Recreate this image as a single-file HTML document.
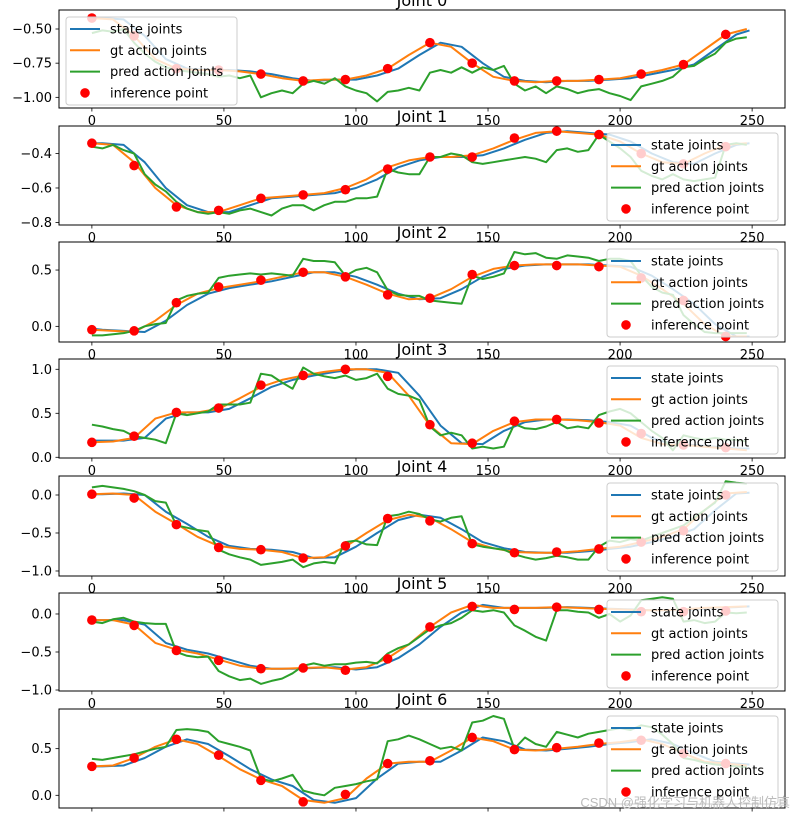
<!DOCTYPE html>
<html><head><meta charset="utf-8"><style>
html,body{margin:0;padding:0;background:#fff;}
svg{display:block;font-family:"DejaVu Sans","Liberation Sans",sans-serif;}
</style></head><body>
<svg id="fig" width="800" height="819" viewBox="0 0 800 819" xmlns="http://www.w3.org/2000/svg"></svg>
<script>
// x values of inference points
const inferT = [0,16,32,48,64,80,96,112,128,144,160,176,192,208,224,240];
const xTicks = [0,50,100,150,200,250];
const yTicks0 = [-1.00,-0.75,-0.50];
const yTicks1 = [-0.8,-0.6,-0.4];
const yTicks2 = [0.0,0.5];
const yTicks3 = [0.0,0.5,1.0];
const yTicks4 = [-1.0,-0.5,0.0];
const yTicks5 = [-1.0,-0.5,0.0];
const yTicks6 = [0.0,0.5];
// gt every 8 steps, state every 8 steps (lagged), pred every 4 steps
const gt0 = [-0.42,-0.43,-0.55,-0.72,-0.79,-0.80,-0.80,-0.81,-0.83,-0.86,-0.88,-0.87,-0.87,-0.84,-0.79,-0.69,-0.60,-0.63,-0.75,-0.85,-0.88,-0.89,-0.88,-0.88,-0.87,-0.86,-0.83,-0.80,-0.76,-0.65,-0.54,-0.50];
const state0 = [-0.42,-0.42,-0.43,-0.55,-0.72,-0.79,-0.80,-0.80,-0.81,-0.83,-0.86,-0.88,-0.87,-0.87,-0.84,-0.79,-0.69,-0.60,-0.63,-0.75,-0.85,-0.88,-0.89,-0.88,-0.88,-0.87,-0.86,-0.83,-0.80,-0.76,-0.65,-0.54,-0.51];
const pred0 = [-0.53,-0.51,-0.52,-0.50,-0.60,-0.68,-0.74,-0.78,-0.80,-0.81,-0.82,-0.83,-0.85,-0.84,-0.86,-0.84,-1.00,-0.97,-0.95,-0.97,-0.90,-0.88,-0.90,-0.86,-0.92,-0.95,-0.97,-1.03,-0.96,-0.95,-0.93,-0.95,-0.82,-0.80,-0.82,-0.78,-0.82,-0.78,-0.80,-0.77,-0.90,-0.95,-0.92,-0.97,-0.92,-0.94,-0.97,-0.95,-0.94,-0.97,-0.99,-1.02,-0.92,-0.90,-0.88,-0.85,-0.78,-0.77,-0.72,-0.68,-0.60,-0.57,-0.56];
const infer0 = [-0.42,-0.55,-0.79,-0.80,-0.83,-0.88,-0.87,-0.79,-0.60,-0.75,-0.88,-0.88,-0.87,-0.83,-0.76,-0.54];

const gt1 = [-0.34,-0.35,-0.45,-0.60,-0.70,-0.74,-0.74,-0.70,-0.66,-0.65,-0.64,-0.63,-0.60,-0.55,-0.48,-0.44,-0.42,-0.42,-0.41,-0.37,-0.32,-0.28,-0.27,-0.28,-0.29,-0.33,-0.40,-0.45,-0.46,-0.40,-0.35,-0.34];
const state1 = [-0.34,-0.34,-0.35,-0.45,-0.60,-0.70,-0.74,-0.74,-0.70,-0.66,-0.65,-0.64,-0.63,-0.60,-0.55,-0.48,-0.44,-0.42,-0.42,-0.41,-0.37,-0.32,-0.28,-0.27,-0.28,-0.29,-0.33,-0.40,-0.45,-0.46,-0.40,-0.35,-0.34];
const pred1 = [-0.36,-0.37,-0.35,-0.38,-0.40,-0.52,-0.58,-0.62,-0.68,-0.72,-0.74,-0.75,-0.74,-0.75,-0.73,-0.72,-0.74,-0.76,-0.72,-0.70,-0.70,-0.73,-0.70,-0.68,-0.68,-0.66,-0.66,-0.65,-0.49,-0.51,-0.52,-0.52,-0.42,-0.42,-0.40,-0.41,-0.45,-0.46,-0.45,-0.44,-0.43,-0.42,-0.43,-0.45,-0.38,-0.37,-0.39,-0.38,-0.29,-0.33,-0.37,-0.42,-0.50,-0.53,-0.55,-0.52,-0.55,-0.56,-0.55,-0.54,-0.35,-0.34,-0.35];
const infer1 = [-0.34,-0.47,-0.71,-0.73,-0.66,-0.64,-0.61,-0.49,-0.42,-0.42,-0.31,-0.27,-0.29,-0.40,-0.46,-0.36];

const gt2 = [-0.03,-0.04,-0.05,0.05,0.19,0.29,0.34,0.37,0.40,0.44,0.48,0.48,0.44,0.37,0.29,0.24,0.25,0.33,0.44,0.51,0.54,0.55,0.55,0.55,0.54,0.53,0.45,0.33,0.20,0.02,-0.09,-0.09];
const state2 = [-0.02,-0.03,-0.04,-0.05,0.05,0.19,0.29,0.34,0.37,0.40,0.44,0.48,0.48,0.44,0.37,0.29,0.24,0.25,0.33,0.44,0.51,0.54,0.55,0.55,0.55,0.54,0.53,0.45,0.33,0.20,0.02,-0.09,-0.09];
const pred2 = [-0.08,-0.08,-0.07,-0.06,-0.04,0.00,0.02,0.03,0.23,0.27,0.29,0.30,0.43,0.45,0.46,0.47,0.46,0.47,0.46,0.45,0.60,0.58,0.58,0.57,0.45,0.50,0.52,0.48,0.32,0.28,0.27,0.27,0.23,0.22,0.21,0.20,0.45,0.42,0.44,0.47,0.66,0.64,0.65,0.61,0.60,0.63,0.62,0.61,0.58,0.60,0.60,0.58,0.45,0.35,0.30,0.28,0.10,0.02,-0.05,-0.06,-0.06,-0.06,-0.06];
const infer2 = [-0.03,-0.04,0.21,0.35,0.41,0.48,0.44,0.28,0.25,0.46,0.54,0.54,0.53,0.43,0.23,-0.09];

const gt3 = [0.17,0.18,0.22,0.44,0.51,0.51,0.55,0.67,0.80,0.88,0.93,0.97,1.00,1.00,0.96,0.70,0.36,0.16,0.15,0.30,0.40,0.43,0.43,0.42,0.40,0.36,0.22,0.15,0.14,0.12,0.10,0.08];
const state3 = [0.19,0.19,0.19,0.22,0.44,0.51,0.51,0.55,0.67,0.80,0.88,0.93,0.97,1.00,1.00,0.96,0.70,0.36,0.16,0.15,0.30,0.40,0.43,0.43,0.42,0.40,0.36,0.22,0.15,0.14,0.12,0.10,0.10];
const pred3 = [0.37,0.35,0.32,0.30,0.24,0.22,0.20,0.16,0.50,0.48,0.50,0.52,0.60,0.60,0.60,0.62,0.95,0.93,0.85,0.78,1.02,0.95,0.92,0.90,0.93,0.88,0.90,0.95,0.78,0.72,0.70,0.65,0.35,0.25,0.28,0.25,0.10,0.12,0.10,0.12,0.38,0.33,0.32,0.35,0.40,0.33,0.35,0.33,0.48,0.52,0.55,0.50,0.40,0.30,0.22,0.08,0.25,0.22,0.20,0.22,0.20,0.20,0.18];
const infer3 = [0.17,0.24,0.51,0.56,0.82,0.93,1.00,0.92,0.37,0.16,0.41,0.43,0.39,0.27,0.14,0.11];

const gt4 = [0.01,0.02,0.00,-0.22,-0.38,-0.55,-0.67,-0.71,-0.72,-0.75,-0.83,-0.82,-0.68,-0.50,-0.33,-0.26,-0.30,-0.45,-0.62,-0.70,-0.75,-0.76,-0.76,-0.74,-0.71,-0.68,-0.62,-0.55,-0.45,-0.20,0.02,0.04];
const state4 = [0.01,0.01,0.02,0.00,-0.22,-0.38,-0.55,-0.67,-0.71,-0.72,-0.75,-0.83,-0.82,-0.68,-0.50,-0.33,-0.26,-0.30,-0.45,-0.62,-0.70,-0.75,-0.76,-0.76,-0.74,-0.71,-0.68,-0.62,-0.55,-0.45,-0.20,0.02,0.03];
const pred4 = [0.10,0.12,0.10,0.08,0.05,0.00,-0.08,-0.10,-0.40,-0.43,-0.46,-0.48,-0.72,-0.78,-0.82,-0.85,-0.92,-0.90,-0.88,-0.85,-0.95,-0.90,-0.88,-0.90,-0.62,-0.60,-0.65,-0.66,-0.28,-0.26,-0.22,-0.25,-0.32,-0.35,-0.30,-0.28,-0.65,-0.68,-0.70,-0.72,-0.78,-0.82,-0.85,-0.83,-0.80,-0.82,-0.85,-0.85,-0.68,-0.60,-0.62,-0.58,-0.60,-0.55,-0.50,-0.45,-0.40,-0.30,-0.20,-0.10,0.18,0.16,0.15];
const infer4 = [0.01,-0.04,-0.39,-0.69,-0.72,-0.83,-0.67,-0.31,-0.34,-0.64,-0.76,-0.75,-0.71,-0.62,-0.47,0.00];

const gt5 = [-0.08,-0.08,-0.14,-0.38,-0.47,-0.52,-0.60,-0.68,-0.72,-0.72,-0.71,-0.70,-0.73,-0.70,-0.58,-0.40,-0.17,0.02,0.12,0.08,0.08,0.08,0.09,0.08,0.07,0.06,0.05,0.05,0.06,0.08,0.09,0.10];
const state5 = [-0.08,-0.08,-0.08,-0.14,-0.38,-0.47,-0.52,-0.60,-0.68,-0.72,-0.72,-0.71,-0.70,-0.73,-0.70,-0.58,-0.40,-0.17,0.02,0.12,0.08,0.08,0.08,0.09,0.08,0.07,0.06,0.05,0.05,0.06,0.08,0.09,0.10];
const pred5 = [-0.10,-0.12,-0.07,-0.05,-0.10,-0.12,-0.13,-0.13,-0.50,-0.55,-0.57,-0.56,-0.75,-0.82,-0.87,-0.85,-0.92,-0.88,-0.85,-0.78,-0.68,-0.65,-0.68,-0.66,-0.66,-0.64,-0.63,-0.65,-0.52,-0.45,-0.40,-0.30,-0.20,-0.15,-0.12,-0.05,0.05,0.03,0.05,0.02,-0.15,-0.22,-0.30,-0.35,0.05,0.05,0.03,0.02,-0.05,0.00,-0.10,-0.02,0.18,0.20,0.22,0.20,-0.10,-0.08,-0.12,-0.10,0.02,0.01,0.02];
const infer5 = [-0.08,-0.15,-0.48,-0.61,-0.72,-0.71,-0.74,-0.59,-0.17,0.10,0.06,0.09,0.06,0.03,0.03,0.04];

const gt6 = [0.31,0.32,0.40,0.52,0.60,0.55,0.42,0.28,0.17,0.10,-0.05,-0.08,-0.03,0.18,0.34,0.36,0.36,0.48,0.62,0.58,0.49,0.48,0.50,0.52,0.55,0.57,0.60,0.55,0.45,0.36,0.34,0.32];
const state6 = [0.31,0.31,0.32,0.40,0.52,0.60,0.55,0.42,0.28,0.17,0.10,-0.05,-0.08,-0.03,0.18,0.34,0.36,0.36,0.48,0.62,0.58,0.49,0.48,0.50,0.52,0.55,0.57,0.60,0.55,0.45,0.36,0.34,0.33];
const pred6 = [0.39,0.38,0.40,0.42,0.44,0.47,0.50,0.52,0.70,0.71,0.70,0.68,0.58,0.55,0.52,0.48,0.18,0.15,0.18,0.22,0.05,0.02,0.00,0.08,0.10,0.12,0.15,0.17,0.58,0.60,0.64,0.60,0.55,0.50,0.52,0.48,0.78,0.80,0.85,0.82,0.50,0.62,0.55,0.52,0.68,0.65,0.62,0.66,0.68,0.70,0.72,0.70,0.75,0.73,0.65,0.55,0.40,0.38,0.35,0.33,0.32,0.31,0.30];
const infer6 = [0.31,0.40,0.60,0.43,0.16,-0.07,0.01,0.34,0.37,0.62,0.49,0.51,0.56,0.59,0.45,0.34];

const NS="http://www.w3.org/2000/svg";
const svg=document.getElementById('fig');
function mk(tag,attrs,parent){const e=document.createElementNS(NS,tag);for(const k in attrs)e.setAttribute(k,attrs[k]);(parent||svg).appendChild(e);return e;}

const panels=[
 {top:10,bot:108,dom:[-1.078,-0.361],ticks:yTicks0,fmt:2,gt:gt0,st:state0,pr:pred0,inf:infer0,legLeft:true},
 {top:126,bot:225,dom:[-0.815,-0.24],ticks:yTicks1,fmt:1,gt:gt1,st:state1,pr:pred1,inf:infer1},
 {top:242,bot:342,dom:[-0.139,0.749],ticks:yTicks2,fmt:1,gt:gt2,st:state2,pr:pred2,inf:infer2},
 {top:359,bot:458,dom:[-0.008,1.117],ticks:yTicks3,fmt:1,gt:gt3,st:state3,pr:pred3,inf:infer3},
 {top:476,bot:576,dom:[-1.066,0.25],ticks:yTicks4,fmt:1,gt:gt4,st:state4,pr:pred4,inf:infer4},
 {top:593,bot:691,dom:[-1.013,0.276],ticks:yTicks5,fmt:1,gt:gt5,st:state5,pr:pred5,inf:infer5},
 {top:709,bot:808,dom:[-0.136,0.925],ticks:yTicks6,fmt:1,gt:gt6,st:state6,pr:pred6,inf:infer6,noXLabels:true}
];
const L=59,R=785;
const xs=t=>L+(t+12.45)/274.9*(R-L);

panels.forEach((p,i)=>{
 const g=mk('g',{});
 
 
 const ys=v=>p.bot-(v-p.dom[0])/(p.dom[1]-p.dom[0])*(p.bot-p.top);
 const clipId='clip'+i;
 const cp=mk('clipPath',{id:clipId},g);mk('rect',{x:L,y:p.top,width:R-L,height:p.bot-p.top},cp);
 const series=[[p.st,8,-4,'#1f77b4','state-joints-line'],[p.gt,8,0,'#ff7f0e','gt-action-line'],[p.pr,4,0,'#2ca02c','pred-action-line']];
 series.forEach(s=>{
  const pts=s[0].map((v,k)=>xs(Math.max(0,Math.min(k*s[1]+s[2],249))).toFixed(1)+','+ys(v).toFixed(1)).join(' ');
  const pl=mk('polyline',{points:pts,fill:'none',stroke:s[3],'stroke-width':2,'stroke-linejoin':'round','clip-path':'url(#'+clipId+')'},g);
  
  
 });
 p.inf.forEach((v,k)=>{
  const c=mk('circle',{cx:xs(inferT[k]),cy:ys(v),r:4.8,fill:'#ff0000'},g);
  
  
 });
 const fr=mk('rect',{x:L,y:p.top,width:R-L,height:p.bot-p.top,fill:'none',stroke:'#000','stroke-width':1},g);
 
 
 p.ticks.forEach(v=>{
  const y=ys(v);
  mk('line',{x1:L-3.5,x2:L,y1:y,y2:y,stroke:'#000','stroke-width':0.8},g);
  const t=mk('text',{x:L-7,y:y+4.5,'text-anchor':'end','font-size':13},g);
  
  
  t.textContent=v.toFixed(p.fmt).replace('-','\u2212');
 });
 xTicks.forEach(v=>{
  const x=xs(v);
  mk('line',{x1:x,x2:x,y1:p.bot,y2:p.bot+3.5,stroke:'#000','stroke-width':0.8},g);
  if(!p.noXLabels){
   const t=mk('text',{x:x,y:p.bot+17,'text-anchor':'middle','font-size':13},g);
   
   
   t.textContent=v;
  }
 });
 const ti=mk('text',{x:422,y:p.top-4,'text-anchor':'middle','font-size':16},g);
 
 
 ti.textContent='Joint '+i;
 const lx=p.legLeft?66:607, ly=p.top+7;
 const lg=mk('g',{},g);
 
 
 mk('rect',{x:lx,y:ly,width:171,height:88,rx:3,fill:'#fff','fill-opacity':0.8,stroke:'#ccc','stroke-width':1},lg);
 const items=[['state joints','#1f77b4'],['gt action joints','#ff7f0e'],['pred action joints','#2ca02c'],['inference point','#ff0000']];
 items.forEach((it,k)=>{
  const yy=ly+12+k*21.3;
  if(k<3) mk('line',{x1:lx+4,x2:lx+34,y1:yy,y2:yy,stroke:it[1],'stroke-width':2},lg);
  else mk('circle',{cx:lx+19,cy:yy,r:4.8,fill:it[1]},lg);
  const t=mk('text',{x:lx+44,y:yy+4.5,'font-size':13},lg);
  
  
  t.textContent=it[0];
 });
});
const wm=mk('text',{x:790,y:807,'text-anchor':'end','font-size':13,fill:'#bbbbbb','font-family':'"Liberation Sans","Noto Sans CJK SC",sans-serif'});


wm.textContent='CSDN @强化学习与机器人控制仿真';
</script>
</body></html>
